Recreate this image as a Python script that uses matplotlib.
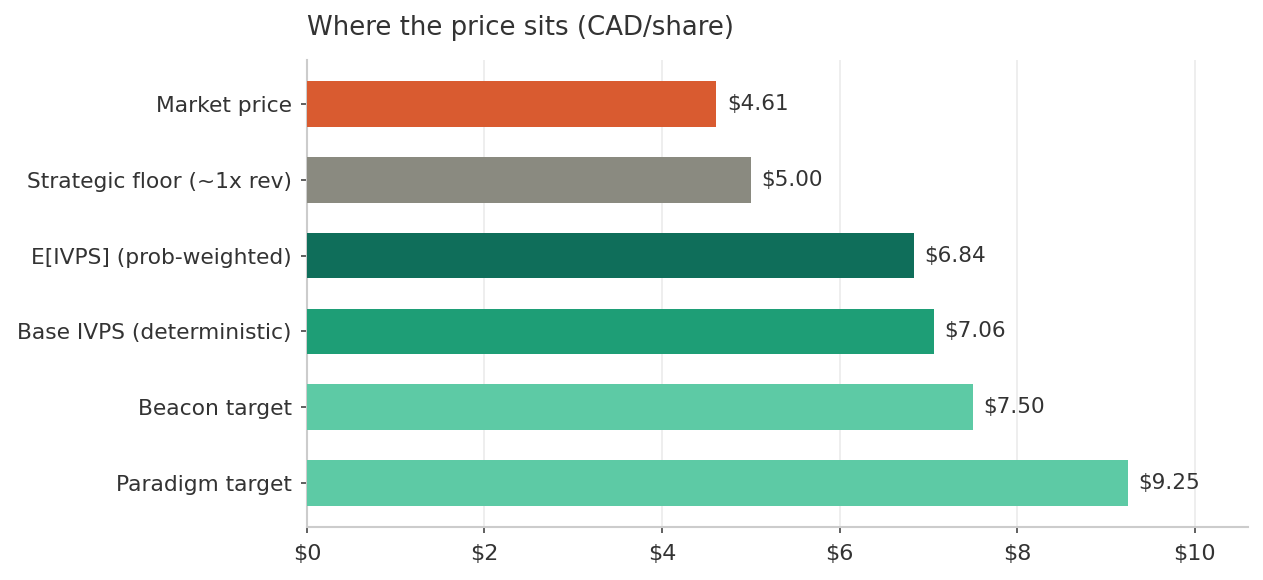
import matplotlib
matplotlib.use("Agg")
import matplotlib.pyplot as plt

# Values (CAD/share)
labels = [
    "Market price",
    "Strategic floor (~1x rev)",
    "E[IVPS] (prob-weighted)",
    "Base IVPS (deterministic)",
    "Beacon target",
    "Paradigm target",
]
values = [4.61, 5.00, 6.84, 7.06, 7.50, 9.25]
colors = ["#D95B30", "#8A8A80", "#0F6E5A", "#1E9E76", "#5DCAA5", "#5DCAA5"]
xticks = [0, 2, 4, 6, 8, 10]

text_color = "#333333"

fig = plt.figure(figsize=(12.63, 5.8), dpi=100)
ax = fig.add_axes([0.243, 0.0914, 0.745, 0.8052])

ypos = list(range(len(labels)))
ax.barh(ypos, values, height=0.6, color=colors, zorder=3)
ax.invert_yaxis()

# Value labels next to each bar
for y, v in zip(ypos, values):
    ax.text(v + 0.12, y, f"${v:.2f}", va="center", ha="left",
            fontsize=15.5, color=text_color)

ax.set_yticks(ypos)
ax.set_yticklabels(labels, fontsize=15.7, color=text_color)
ax.set_xticks(xticks)
ax.set_xticklabels([f"${t}" for t in xticks], fontsize=16, color=text_color)
ax.set_xlim(0, 10.6)

ax.grid(axis="x", color="#ebebeb", linewidth=1.2, zorder=0)
ax.set_axisbelow(True)

for side in ("top", "right"):
    ax.spines[side].set_visible(False)
for side in ("left", "bottom"):
    ax.spines[side].set_color("#cccccc")
    ax.spines[side].set_linewidth(1.5)
ax.tick_params(axis="both", colors="#444444", length=4, width=1.2, pad=7)
ax.tick_params(axis="x", pad=8)
ax.tick_params(axis="both", labelcolor=text_color)

ax.set_title("Where the price sits (CAD/share)", loc="left", fontsize=18.7,
             color=text_color, pad=18)

fig.savefig("out.png", dpi=100)
